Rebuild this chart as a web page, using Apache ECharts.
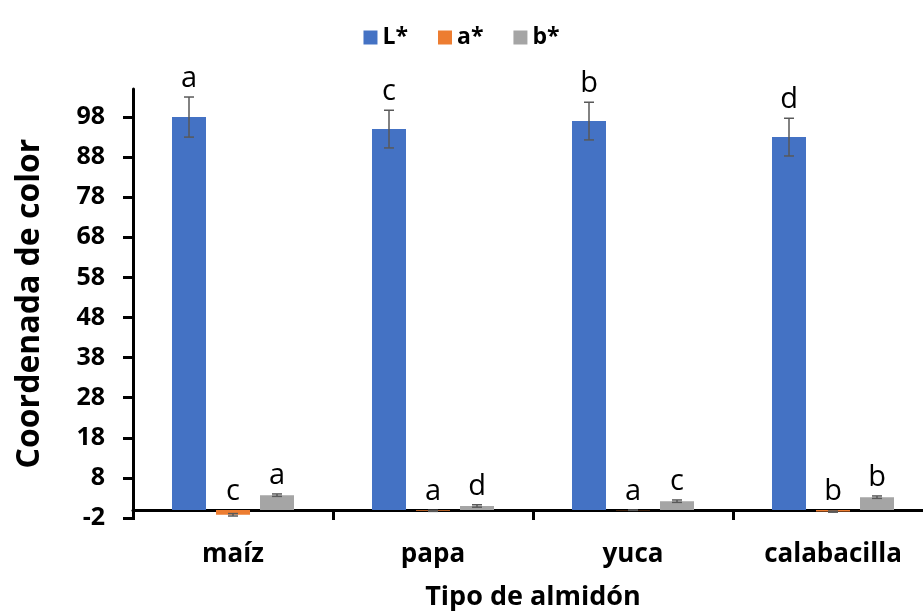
<!DOCTYPE html>
<html>
<head>
<meta charset="utf-8">
<script src="https://cdn.jsdelivr.net/npm/echarts@6/dist/echarts.min.js"></script>
<style>html,body{margin:0;padding:0;background:#fff}#c{width:923px;height:611px}</style>
</head>
<body>
<div id="c"></div>
<script>
var categories = ['maíz', 'papa', 'yuca', 'calabacilla'];
var seriesNames = ['L*', 'a*', 'b*'];
var valuesL = [98, 95, 97, 93];
var errL = [5, 4.7, 4.7, 4.7];
var valuesA = [-1.2, -0.2, -0.05, -0.4];
var errA = [0.3, 0.15, 0.05, 0.15];
var valuesB = [3.7, 1.0, 2.2, 3.2];
var errB = [0.3, 0.3, 0.3, 0.3];
var lettersL = ['a', 'c', 'b', 'd'];
var lettersA = ['c', 'a', 'a', 'b'];
var lettersB = ['a', 'd', 'c', 'b'];
var yTicks = [-2, 8, 18, 28, 38, 48, 58, 68, 78, 88, 98];

var colors = ['#4472C4', '#ED7D31', '#A5A5A5'];
var FONT = '"Open Sans"';
var BAR_W = 34, GAP = 10;

var chart = echarts.init(document.getElementById('c'));

function errSeries(idx, vals, errs, letters) {
  var data = vals.map(function (v, i) { return [i, v, errs[i], letters[i]]; });
  return {
    type: 'custom',
    name: seriesNames[idx] + '_err',
    data: data,
    z: 10,
    silent: true,
    renderItem: function (params, api) {
      var i = api.value(0), v = api.value(1), e = api.value(2);
      var c = api.coord([i, v]);
      var off = (idx - 1) * (BAR_W + GAP);
      var x = c[0] + off;
      var yHi = api.coord([i, v + e])[1];
      var yLo = api.coord([i, v - e])[1];
      var yTop = api.coord([i, Math.max(v + e, 0)])[1];
      var cap = 5;
      var st = { stroke: '#595959', lineWidth: 1.5 };
      return {
        type: 'group',
        children: [
          { type: 'line', shape: { x1: x, y1: yHi, x2: x, y2: yLo }, style: st },
          { type: 'line', shape: { x1: x - cap, y1: yHi, x2: x + cap, y2: yHi }, style: st },
          { type: 'line', shape: { x1: x - cap, y1: yLo, x2: x + cap, y2: yLo }, style: st },
          { type: 'text', x: x, y: yTop - 4,
            style: { text: letters[i], fill: '#000', font: '29px ' + FONT, align: 'center', verticalAlign: 'bottom' } }
        ]
      };
    }
  };
}

var option = {
  animation: false,
  backgroundColor: '#fff',
  textStyle: { fontFamily: FONT },
  legend: {
    top: 21, left: 'center',
    data: seriesNames,
    itemWidth: 14, itemHeight: 14, itemGap: 30,
    icon: 'rect',
    textStyle: { fontSize: 23, fontWeight: 'bold', color: '#000', fontFamily: FONT }
  },
  grid: { left: 133, width: 800, top: 89, bottom: 93, containLabel: false, outerBoundsMode: 'none' },
  xAxis: {
    type: 'category',
    data: categories,
    axisLine: { onZero: true, lineStyle: { color: '#000', width: 3 } },
    axisTick: { show: true, length: 10, lineStyle: { color: '#000', width: 3 } },
    axisLabel: { fontSize: 26, fontWeight: 'bold', color: '#000', margin: 24, fontFamily: FONT },
    name: 'Tipo de almidón',
    nameLocation: 'middle',
    nameGap: 66,
    nameTextStyle: { fontSize: 27, fontWeight: 'bold', color: '#000', fontFamily: FONT }
  },
  yAxis: {
    type: 'value',
    min: -2, max: 105,
    splitLine: { show: false },
    axisLine: { show: true, lineStyle: { color: '#000', width: 3 } },
    axisTick: { show: true, length: 10, lineStyle: { color: '#000', width: 3 }, customValues: yTicks },
    axisLabel: { fontSize: 25, fontWeight: 'bold', color: '#000', margin: 28, customValues: yTicks, fontFamily: FONT },
    name: 'Coordenada de color',
    nameLocation: 'middle',
    nameGap: 87,
    nameTextStyle: { fontSize: 32, fontWeight: 'bold', color: '#000', fontFamily: FONT }
  },
  series: [
    { type: 'bar', name: seriesNames[0], data: valuesL, barWidth: BAR_W, barGap: (GAP / BAR_W * 100) + '%', itemStyle: { color: colors[0] } },
    { type: 'bar', name: seriesNames[1], data: valuesA, barWidth: BAR_W, barGap: (GAP / BAR_W * 100) + '%', itemStyle: { color: colors[1] } },
    { type: 'bar', name: seriesNames[2], data: valuesB, barWidth: BAR_W, barGap: (GAP / BAR_W * 100) + '%', itemStyle: { color: colors[2] } },
    errSeries(0, valuesL, errL, lettersL),
    errSeries(1, valuesA, errA, lettersA),
    errSeries(2, valuesB, errB, lettersB)
  ]
};
chart.setOption(option);
</script>
</body>
</html>
